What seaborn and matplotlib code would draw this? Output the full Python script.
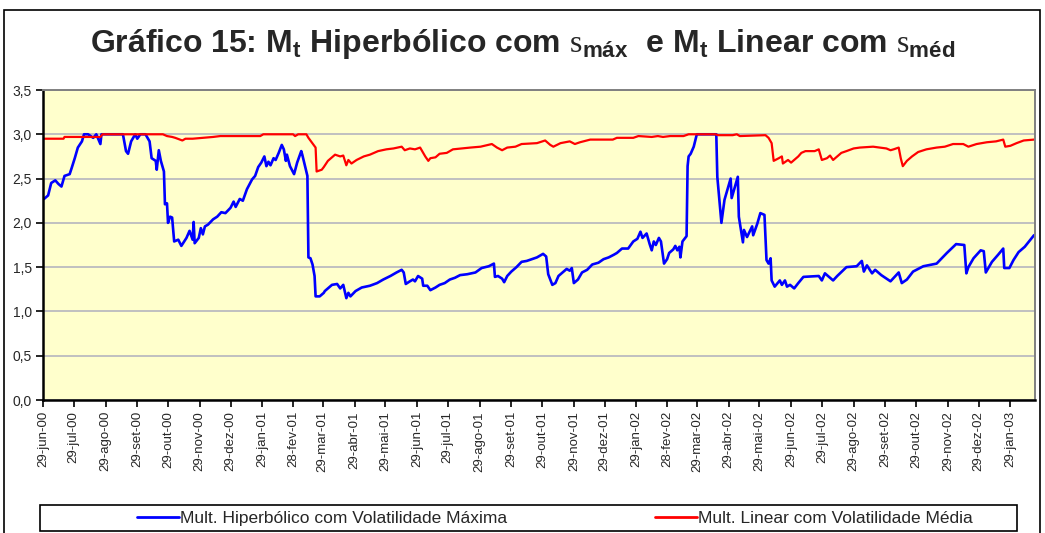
import matplotlib
matplotlib.use('Agg')
import matplotlib.pyplot as plt
from matplotlib.lines import Line2D
from matplotlib.patches import Rectangle
import pandas as pd
import seaborn as sns

# dias contados a partir de 29-jun-00 e multiplicador
dias_hip = [0, 1, 5, 8, 12, 15, 18, 21, 26, 28, 31, 34, 38, 40, 44, 49, 52, 56, 57, 78,
            81, 83, 86, 90, 92, 95, 100, 104, 106, 110, 111, 113, 115, 118, 119, 121, 122, 124, 126, 128,
            132, 135, 140, 143, 146, 147, 148, 152, 154, 156, 158, 161, 166, 170, 174, 178, 183, 186, 188, 192,
            195, 199, 204, 207, 210, 213, 216, 218, 220, 222, 225, 227, 230, 233, 235, 237, 238, 241, 245, 248,
            252, 253, 257, 258, 259, 261, 263, 265, 266, 270, 274, 275, 282, 287, 290, 293, 296, 298, 300, 305,
            311, 319, 326, 332, 339, 345, 350, 352, 354, 358, 361, 363, 366, 370, 371, 375, 378, 383, 387, 392,
            397, 402, 407, 414, 422, 428, 435, 440, 441, 444, 448, 450, 453, 457, 462, 467, 472, 477, 482, 488,
            491, 493, 497, 500, 503, 508, 511, 514, 516, 518, 522, 526, 531, 536, 542, 547, 552, 557, 560, 565,
            571, 576, 580, 583, 585, 589, 592, 594, 596, 598, 601, 603, 606, 609, 611, 615, 617, 619, 621, 622,
            624, 628, 629, 630, 632, 635, 638, 657, 658, 662, 665, 671, 672, 678, 679, 683, 684, 687, 692, 693,
            697, 700, 704, 706, 708, 710, 711, 714, 719, 721, 724, 726, 729, 733, 737, 742, 757, 760, 763, 771,
            775, 784, 794, 799, 801, 804, 809, 812, 818, 827, 835, 838, 843, 849, 859, 872, 882, 891, 899, 901,
            903, 908, 915, 918, 920, 926, 932, 937, 938, 943, 947, 952, 958, 967]
mult_hip = [2.27, 2.27, 2.31, 2.45, 2.48, 2.44, 2.41, 2.53, 2.55, 2.62, 2.73, 2.85, 2.92, 3.00, 3.00, 2.96, 3.00, 2.89, 3.00, 3.00,
            2.81, 2.78, 2.92, 3.00, 2.95, 3.00, 3.00, 2.92, 2.73, 2.70, 2.60, 2.82, 2.70, 2.58, 2.21, 2.22, 2.00, 2.07, 2.06, 1.79,
            1.81, 1.74, 1.83, 1.91, 1.81, 2.01, 1.77, 1.83, 1.94, 1.87, 1.96, 1.98, 2.04, 2.07, 2.12, 2.11, 2.17, 2.24, 2.18, 2.27,
            2.25, 2.38, 2.49, 2.53, 2.63, 2.68, 2.75, 2.64, 2.69, 2.65, 2.73, 2.71, 2.79, 2.88, 2.83, 2.70, 2.77, 2.64, 2.55, 2.68,
            2.81, 2.77, 2.58, 2.53, 1.61, 1.60, 1.53, 1.40, 1.17, 1.17, 1.21, 1.23, 1.30, 1.31, 1.26, 1.30, 1.15, 1.21, 1.17, 1.23,
            1.27, 1.29, 1.32, 1.36, 1.40, 1.44, 1.47, 1.44, 1.31, 1.34, 1.36, 1.34, 1.40, 1.37, 1.29, 1.29, 1.24, 1.27, 1.30, 1.32,
            1.36, 1.38, 1.41, 1.42, 1.44, 1.49, 1.51, 1.54, 1.39, 1.40, 1.37, 1.33, 1.40, 1.45, 1.50, 1.56, 1.57, 1.59, 1.61, 1.65,
            1.62, 1.42, 1.30, 1.32, 1.40, 1.45, 1.48, 1.46, 1.49, 1.32, 1.36, 1.44, 1.47, 1.53, 1.55, 1.59, 1.61, 1.64, 1.66, 1.71,
            1.71, 1.79, 1.82, 1.90, 1.83, 1.88, 1.76, 1.69, 1.79, 1.75, 1.83, 1.79, 1.54, 1.59, 1.66, 1.70, 1.74, 1.69, 1.73, 1.61,
            1.79, 1.85, 2.64, 2.75, 2.78, 2.86, 3.00, 3.00, 2.52, 2.00, 2.26, 2.50, 2.28, 2.52, 2.07, 1.78, 1.92, 1.84, 1.96, 1.86,
            1.99, 2.11, 2.09, 1.58, 1.54, 1.60, 1.35, 1.28, 1.35, 1.30, 1.35, 1.28, 1.30, 1.26, 1.32, 1.39, 1.40, 1.35, 1.43, 1.35,
            1.40, 1.50, 1.51, 1.57, 1.45, 1.52, 1.43, 1.47, 1.41, 1.34, 1.44, 1.32, 1.36, 1.45, 1.51, 1.54, 1.66, 1.76, 1.75, 1.43,
            1.50, 1.60, 1.69, 1.68, 1.44, 1.56, 1.64, 1.71, 1.49, 1.49, 1.58, 1.67, 1.73, 1.86]

dias_lin = [0, 20, 21, 56, 58, 117, 121, 126, 129, 136, 139, 146, 166, 173, 212, 215, 244, 246, 249, 257,
            259, 264, 266, 267, 272, 274, 278, 285, 290, 293, 296, 298, 301, 306, 313, 319, 327, 335, 342, 350,
            353, 358, 363, 368, 373, 376, 378, 383, 387, 394, 400, 417, 427, 438, 443, 448, 453, 461, 467, 482,
            490, 495, 498, 505, 514, 519, 524, 534, 556, 560, 576, 581, 594, 600, 605, 612, 625, 630, 656, 659,
            673, 677, 680, 705, 708, 711, 713, 718, 721, 722, 727, 730, 732, 737, 740, 744, 753, 757, 760, 765,
            768, 771, 775, 779, 784, 791, 797, 810, 823, 827, 830, 835, 837, 839, 843, 848, 854, 862, 872, 880,
            888, 898, 903, 911, 921, 930, 937, 939, 944, 950, 957, 967]
mult_lin = [2.95, 2.95, 2.97, 2.97, 3.00, 3.00, 2.98, 2.97, 2.96, 2.93, 2.95, 2.95, 2.97, 2.98, 2.98, 3.00, 3.00, 2.98, 3.00, 3.00,
            2.96, 2.88, 2.85, 2.58, 2.60, 2.63, 2.70, 2.77, 2.75, 2.76, 2.65, 2.71, 2.67, 2.71, 2.75, 2.77, 2.81, 2.83, 2.84, 2.86,
            2.82, 2.84, 2.83, 2.85, 2.75, 2.70, 2.73, 2.74, 2.78, 2.79, 2.83, 2.85, 2.86, 2.89, 2.85, 2.82, 2.85, 2.86, 2.89, 2.90,
            2.93, 2.88, 2.86, 2.90, 2.92, 2.89, 2.91, 2.94, 2.94, 2.96, 2.96, 2.98, 2.97, 2.98, 2.97, 2.98, 2.98, 3.00, 3.00, 2.99,
            2.99, 3.00, 2.98, 2.99, 2.96, 2.90, 2.70, 2.73, 2.75, 2.67, 2.71, 2.68, 2.70, 2.75, 2.79, 2.81, 2.81, 2.83, 2.71, 2.73,
            2.76, 2.71, 2.75, 2.79, 2.81, 2.84, 2.85, 2.86, 2.84, 2.82, 2.83, 2.85, 2.73, 2.64, 2.70, 2.75, 2.80, 2.83, 2.85, 2.86,
            2.89, 2.89, 2.86, 2.89, 2.91, 2.92, 2.94, 2.86, 2.87, 2.90, 2.93, 2.94]

rotulos_x = ['29-jun-00', '29-jul-00', '29-ago-00', '29-set-00', '29-out-00', '29-nov-00', '29-dez-00',
             '29-jan-01', '28-fev-01', '29-mar-01', '29-abr-01', '29-mai-01', '29-jun-01', '29-jul-01',
             '29-ago-01', '29-set-01', '29-out-01', '29-nov-01', '29-dez-01', '29-jan-02', '28-fev-02',
             '29-mar-02', '29-abr-02', '29-mai-02', '29-jun-02', '29-jul-02', '29-ago-02', '29-set-02',
             '29-out-02', '29-nov-02', '29-dez-02', '29-jan-03']
meses = {'jan': 1, 'fev': 2, 'mar': 3, 'abr': 4, 'mai': 5, 'jun': 6, 'jul': 7,
         'ago': 8, 'set': 9, 'out': 10, 'nov': 11, 'dez': 12}

nome_hip = 'Mult. Hiperbólico com Volatilidade Máxima'
nome_lin = 'Mult. Linear com Volatilidade Média'

inicio = pd.Timestamp('2000-06-29')
df_hip = pd.DataFrame({'data': inicio + pd.to_timedelta(dias_hip, unit='D'), 'mult': mult_hip})
df_lin = pd.DataFrame({'data': inicio + pd.to_timedelta(dias_lin, unit='D'), 'mult': mult_lin})

sns.set_theme(style='white')
plt.rcParams['font.family'] = ['Liberation Sans', 'DejaVu Sans']
plt.rcParams['mathtext.fontset'] = 'custom'
plt.rcParams['mathtext.rm'] = 'Liberation Serif'
plt.rcParams['mathtext.bf'] = 'Liberation Sans:bold'

fig = plt.figure(figsize=(10.45, 5.33), dpi=100)
ax = fig.add_axes([43 / 1045, 1 - 400 / 533, 992 / 1045, 310 / 533])
ax.set_facecolor('#FFFFCC')

sns.lineplot(data=df_hip, x='data', y='mult', ax=ax, color='#0000FF', linewidth=1.9,
             estimator=None, sort=False)
sns.lineplot(data=df_lin, x='data', y='mult', ax=ax, color='#FF0000', linewidth=1.6,
             estimator=None, sort=False)

# eixo y
ax.set_ylim(0, 3.5)
yt = [i * 0.5 for i in range(8)]
ax.set_yticks(yt)
ax.set_yticklabels([f'{v:.1f}'.replace('.', ',') for v in yt], fontsize=10)
ax.yaxis.grid(True, color='#C0C0C0', linewidth=1.4)
ax.set_axisbelow(True)

# eixo x com datas
datas_tick = [pd.Timestamp(2000 + int(r[-2:]), meses[r[3:6]], int(r[:2])) for r in rotulos_x]
ax.set_xticks(datas_tick)
ax.set_xticklabels(rotulos_x, rotation=90, fontsize=9.5)
ax.set_xlim(inicio, inicio + pd.Timedelta(days=968))
ax.set_xlabel('')
ax.set_ylabel('')

ax.tick_params(axis='both', which='both', direction='out', length=5, width=1.2, color='black',
               bottom=True, left=True, pad=3)
for lado in ['left', 'bottom']:
    ax.spines[lado].set_color('black')
    ax.spines[lado].set_linewidth(1.8)
for lado in ['top', 'right']:
    ax.spines[lado].set_color('#808080')
    ax.spines[lado].set_linewidth(1.4)

titulo = (r'Gráfico 15: M$_{\mathbf{t}}$ Hiperbólico com $\mathrm{s}_{\mathbf{máx}}$  '
          r'e M$_{\mathbf{t}}$ Linear com $\mathrm{s}_{\mathbf{méd}}$')
fig.text(0.5, 1 - 52 / 533, titulo, ha='center', va='baseline', fontsize=23, fontweight='bold')

# moldura externa e caixa da legenda
fig.patches.append(Rectangle((4 / 1045, -0.02), 1036 / 1045, 1.02 - 10 / 533, transform=fig.transFigure,
                             fill=False, edgecolor='black', linewidth=1.2))
fig.patches.append(Rectangle((40 / 1045, 1 - 531 / 533), 977 / 1045, 26 / 533, transform=fig.transFigure,
                             fill=False, edgecolor='black', linewidth=1.2))

handles = [Line2D([], [], color='#0000FF', linewidth=2), Line2D([], [], color='#FF0000', linewidth=2)]
fig.legend(handles, [nome_hip, nome_lin], loc='center', bbox_to_anchor=(555 / 1045, 1 - 518 / 533),
           ncol=2, frameon=False, fontsize=12.5, handlelength=2.4, handletextpad=0.1, columnspacing=8.5)

fig.savefig('out.png', dpi=100)
